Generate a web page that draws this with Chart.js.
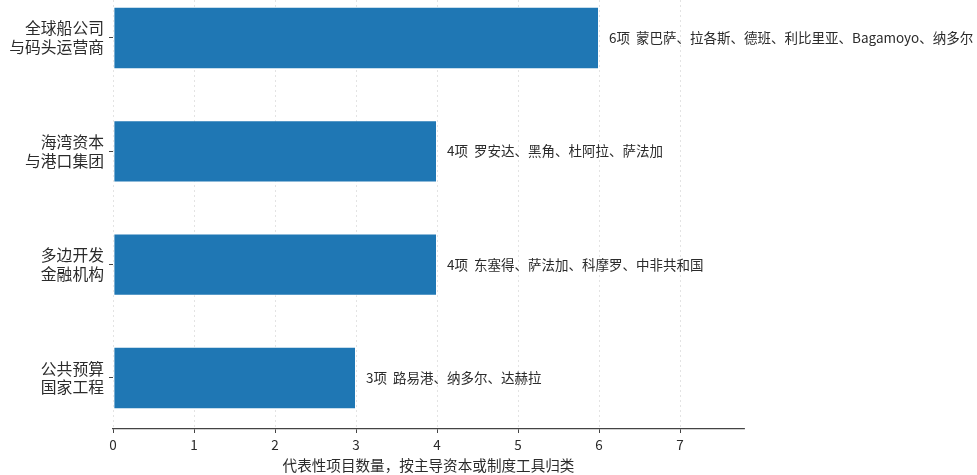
<!DOCTYPE html>
<html>
<head>
<meta charset="utf-8">
<script src="https://cdn.jsdelivr.net/npm/chart.js@4/dist/chart.umd.min.js"></script>
<style>
  html, body { margin: 0; padding: 0; background: #fff; }
  #wrap { position: relative; width: 977px; height: 475px; }
</style>
</head>
<body>
<div id="wrap"><canvas id="projectChart"></canvas></div>
<script>
// categories (top to bottom)
const categories = [
    ['全球船公司', '与码头运营商'],
    ['海湾资本', '与港口集团'],
    ['多边开发', '金融机构'],
    ['公共预算', '国家工程']
];
const projectCounts = [6, 4, 4, 3];
const projectNotes = [
    '6项  蒙巴萨、拉各斯、德班、利比里亚、Bagamoyo、纳多尔',
    '4项  罗安达、黑角、杜阿拉、萨法加',
    '4项  东塞得、萨法加、科摩罗、中非共和国',
    '3项  路易港、纳多尔、达赫拉'
];
const xTicks = [0, 1, 2, 3, 4, 5, 6, 7];
const xTitle = '代表性项目数量，按主导资本或制度工具归类';

const FONT = '"Noto Sans CJK SC", "Noto Sans", sans-serif';
const INK = '#2b2b2b';

document.addEventListener('DOMContentLoaded', () => {
    const ctx = document.getElementById('projectChart');
    if (!ctx) {
        console.error('canvas missing');
        return;
    }

    // labels to the right of each bar
    const noteLabels = {
        id: 'noteLabels',
        afterDatasetsDraw(chart) {
            const c = chart.ctx;
            const xs = chart.scales.x;
            const meta = chart.getDatasetMeta(0);
            c.save();
            c.font = '13.5px ' + FONT;
            c.fillStyle = INK;
            c.textBaseline = 'middle';
            c.textAlign = 'left';
            meta.data.forEach((bar, i) => {
                c.fillText(projectNotes[i], xs.getPixelForValue(projectCounts[i]) + 10, bar.y);
            });
            c.restore();
        }
    };

    new Chart(ctx, {
        type: 'bar',
        data: {
            datasets: [{
                data: projectCounts.map((v, i) => ({ x: v, y: i })),
                backgroundColor: '#1f77b4',
                borderColor: 'rgba(255,255,255,0.55)',
                borderWidth: 1,
                borderSkipped: false,
                barPercentage: 0.55,
                categoryPercentage: 1
            }]
        },
        options: {
            indexAxis: 'y',
            responsive: true,
            maintainAspectRatio: false,
            animation: false,
            layout: { padding: { left: 0, right: 233, top: 0, bottom: 0 } },
            plugins: {
                legend: { display: false },
                tooltip: { enabled: false }
            },
            scales: {
                x: {
                    type: 'linear',
                    min: 0,
                    max: 7.79,
                    afterBuildTicks: s => { s.ticks = xTicks.map(v => ({ value: v })); },
                    afterFit: s => { s.height = 46; },
                    grid: {
                        color: '#dcdcdc',
                        lineWidth: 0.8,
                        tickColor: '#444',
                        tickLength: 4,
                        tickWidth: 1,
                        tickBorderDash: []
                    },
                    border: { display: true, color: '#444', width: 1.3, dash: [2, 3] },
                    ticks: {
                        color: INK,
                        font: { family: FONT, size: 13.5 },
                        padding: 4
                    },
                    title: {
                        display: true,
                        text: xTitle,
                        color: INK,
                        font: { family: FONT, size: 14.6 },
                        padding: { top: 0, bottom: 1 }
                    }
                },
                y: {
                    type: 'linear',
                    offset: false,
                    reverse: true,
                    min: -0.335,
                    max: 3.45,
                    afterBuildTicks: s => { s.ticks = categories.map((_, i) => ({ value: i })); },
                    afterFit: s => { s.width = 113; s.paddingTop = 0; s.paddingBottom = 0; },
                    grid: {
                        offset: false,
                        drawOnChartArea: false,
                        drawTicks: true,
                        tickLength: 4,
                        color: '#444',
                        lineWidth: 1
                    },
                    border: { display: false },
                    ticks: {
                        color: INK,
                        font: { family: FONT, size: 15.8, lineHeight: 1.2 },
                        padding: 5,
                        callback: v => categories[v]
                    }
                }
            }
        },
        plugins: [noteLabels]
    });
});
</script>
</body>
</html>
